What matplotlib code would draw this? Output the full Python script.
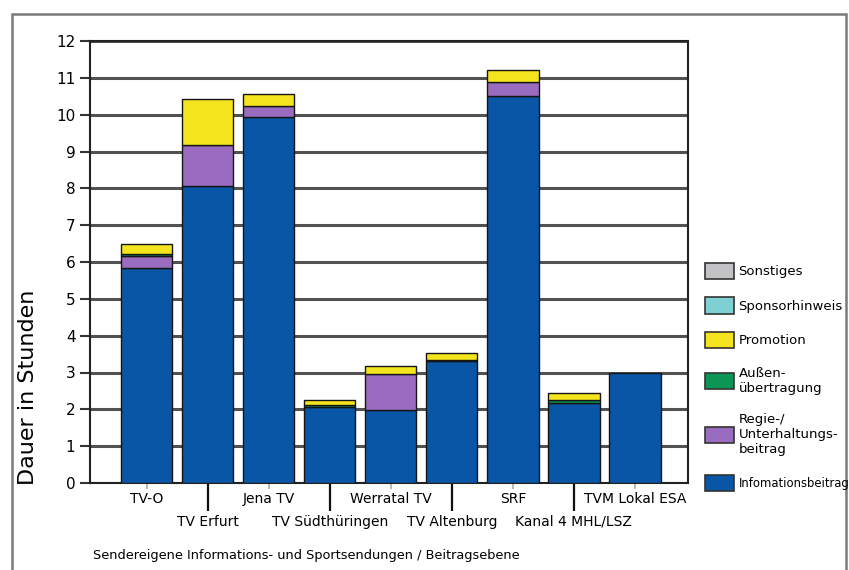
import numpy as np
import matplotlib.pyplot as plt
from matplotlib.patches import Patch, Rectangle

sender = ['TV-O', 'TV Erfurt', 'Jena TV', 'TV Südthüringen', 'Werratal TV',
          'TV Altenburg', 'SRF', 'Kanal 4 MHL/LSZ', 'TVM Lokal ESA']

# Stunden je Beitragstyp (von unten nach oben gestapelt)
info      = [5.84, 8.05, 9.95, 2.07, 1.97, 3.30, 10.50, 2.18, 3.00]
regie     = [0.33, 1.13, 0.29, 0.00, 1.00, 0.00, 0.38, 0.00, 0.00]
aussen    = [0.06, 0.00, 0.00, 0.04, 0.00, 0.03, 0.00, 0.07, 0.00]
promotion = [0.25, 1.25, 0.33, 0.14, 0.22, 0.20, 0.33, 0.18, 0.00]
sponsor   = [0.0] * 9
sonstiges = [0.0] * 9

serien = [
    ('Infomationsbeitrag', info, '#0a56a6'),
    ('Regie-/\nUnterhaltungs-\nbeitrag', regie, '#9a6cbf'),
    ('Außen-\nübertragung', aussen, '#0c9656'),
    ('Promotion', promotion, '#f4e41e'),
    ('Sponsorhinweis', sponsor, '#7fd0d4'),
    ('Sonstiges', sonstiges, '#c3c3c6'),
]

fig = plt.figure(figsize=(8.49, 5.70), dpi=100)
# grauer Rahmen ums Bild
fig.patches.append(Rectangle((12 / 849, -0.05), 834 / 849, 1.05 - 14 / 570,
                             transform=fig.transFigure, fill=False,
                             edgecolor='#7a7a7a', lw=1.8))

ax = fig.add_axes([90 / 849, 87 / 570, 598 / 849, 442 / 570])
x = np.arange(len(sender))
unten = np.zeros(len(sender))
for name, werte, farbe in serien:
    w = np.array(werte)
    ax.bar(x, w, 0.84, bottom=unten, color=farbe, edgecolor='#151515',
           linewidth=np.where(w > 0, 1.0, 0.0), zorder=3)
    unten += w

ax.set_ylim(0, 12)
ax.set_xlim(-0.93, 8.87)
ax.set_yticks(range(13))
ax.tick_params(axis='y', labelsize=11, length=7, width=1.5, color='#333333')
ax.yaxis.grid(True, color='#525252', lw=2.2, zorder=1)
for s in ax.spines.values():
    s.set_color('#222222')
    s.set_linewidth(1.5)

# versetzte Beschriftung: gerade oben, ungerade unten mit langem Strich
ax.set_xticks(x[::2])
ax.set_xticklabels(sender[::2], fontsize=10)
ax.set_xticks(x[1::2], minor=True)
ax.set_xticklabels(sender[1::2], minor=True, fontsize=10)
ax.tick_params(axis='x', which='major', length=4, width=1.2, color='#aaaaaa', pad=2.5)
ax.tick_params(axis='x', which='minor', length=20, width=1.6, color='#111111', pad=3)

fig.text(28 / 849, 1 - 387 / 570, 'Dauer in Stunden', rotation=90,
         fontsize=16, ha='center', va='center')
fig.text(93 / 849, 1 - 555 / 570,
         'Sendereigene Informations- und Sportsendungen / Beitragsebene',
         fontsize=9.3, ha='left', va='center')

griffe = [Patch(facecolor=f, edgecolor='#333333', lw=1.2, label=n)
          for n, _, f in serien][::-1]
leg = fig.legend(handles=griffe, loc='upper left',
                 bbox_to_anchor=(693 / 849, 1 - 251 / 570), frameon=False,
                 fontsize=9.5, handlelength=2.2, handleheight=1.5,
                 handletextpad=0.35, labelspacing=1.4)
leg.get_texts()[-1].set_fontsize(8.4)

fig.savefig('out.png', dpi=100)
